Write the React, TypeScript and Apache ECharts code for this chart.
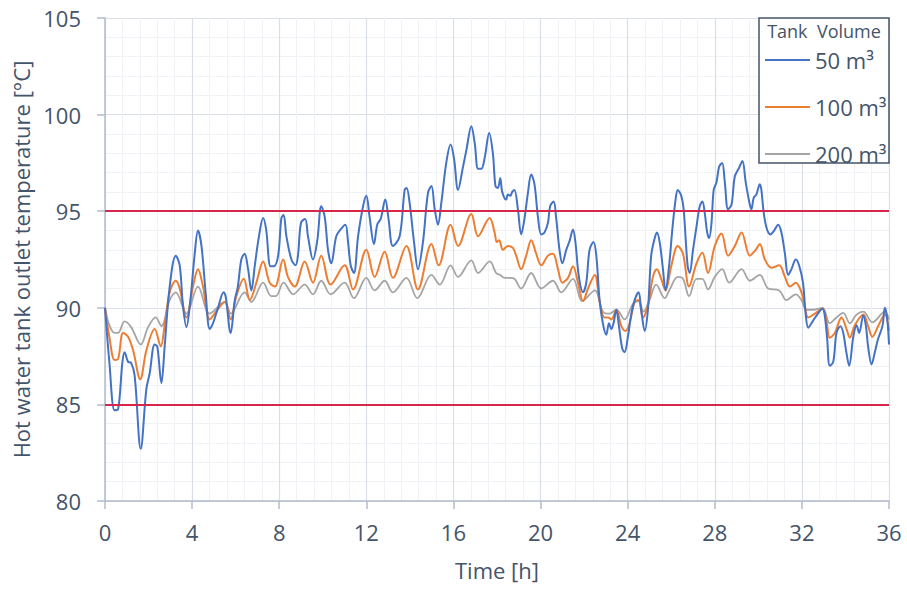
import React, { useEffect, useRef } from "react";
import * as echarts from "echarts";

// Legend / series names
const seriesNames = ["50 m³", "100 m³", "200 m³"];
const legendTitle = "Tank  Volume";

// Axis ranges (ticks)
const hourTicks = [0, 4, 8, 12, 16, 20, 24, 28, 32, 36];
const tempTicks = [80, 85, 90, 95, 100, 105];
const limitLines = [85, 95];

// [hour, temperature °C]
const tank50 = [
  [0, 90.0], [0.2, 87.2], [0.44, 84.7], [0.6, 84.75], [0.8, 87.2], [0.9, 87.7], [1.06, 87.2], [1.2, 87.15],
  [1.36, 86.5], [1.64, 82.7], [1.9, 85.8], [2.05, 86.6], [2.28, 88.1], [2.4, 88.0], [2.59, 86.1], [2.74, 88.0],
  [2.97, 91.1], [3.25, 92.7], [3.43, 92.2], [3.58, 90.1], [3.74, 89.0], [3.92, 90.4], [4.12, 92.8], [4.27, 94.0],
  [4.43, 93.2], [4.62, 90.8], [4.81, 88.9], [4.96, 89.2], [5.19, 90.0], [5.45, 90.8], [5.54, 90.6], [5.77, 88.7],
  [5.96, 90.4], [6.1, 91.1], [6.26, 92.5], [6.41, 92.8], [6.57, 92.0], [6.72, 90.9], [6.88, 92.2], [7.07, 93.7],
  [7.26, 94.65], [7.4, 94.05], [7.6, 92.15], [7.75, 92.15], [7.95, 92.7], [8.1, 94.65], [8.2, 94.8], [8.33, 93.7],
  [8.56, 92.5], [8.75, 92.2], [8.86, 92.7], [9.0, 94.4], [9.19, 94.6], [9.32, 93.7], [9.55, 92.5], [9.75, 93.5],
  [9.93, 95.26], [10.09, 94.7], [10.24, 93.0], [10.39, 92.3], [10.62, 93.7], [10.85, 94.1], [11.04, 94.3],
  [11.16, 93.4], [11.28, 92.2], [11.43, 91.8], [11.62, 93.7], [11.85, 95.26], [12.0, 95.8], [12.15, 94.7],
  [12.35, 93.3], [12.5, 94.3], [12.66, 94.6], [12.87, 95.6], [13.02, 94.6], [13.22, 93.2], [13.53, 93.7],
  [13.76, 96.1], [13.85, 96.2], [13.99, 95.4], [14.19, 93.4], [14.37, 92.0], [14.6, 93.4], [14.83, 95.95],
  [14.99, 96.3], [15.14, 95.1], [15.29, 94.3], [15.44, 95.4], [15.67, 97.5], [15.87, 98.45], [16.03, 97.7],
  [16.21, 96.1], [16.44, 97.3], [16.6, 98.2], [16.82, 99.4], [16.98, 98.5], [17.13, 97.2], [17.28, 97.2],
  [17.44, 97.8], [17.64, 99.05], [17.81, 98.0], [17.93, 96.3], [18.04, 96.2], [18.15, 96.7], [18.24, 96.0],
  [18.42, 95.6], [18.5, 95.86], [18.61, 95.8], [18.7, 96.0], [18.8, 96.1], [18.96, 95.1], [19.11, 93.8],
  [19.26, 94.6], [19.42, 95.95], [19.57, 96.9], [19.72, 96.4], [19.88, 94.7], [20.03, 93.8], [20.18, 93.9],
  [20.34, 94.4], [20.44, 95.26], [20.6, 95.5], [20.72, 94.6], [20.87, 93.0], [21.0, 92.3], [21.18, 93.0],
  [21.33, 93.45], [21.49, 94.05], [21.6, 93.4], [21.76, 91.6], [21.95, 90.8], [22.1, 91.3], [22.25, 93.0],
  [22.43, 93.4], [22.56, 92.7], [22.71, 90.4], [22.86, 89.2], [23.02, 88.6], [23.14, 89.2], [23.25, 88.9],
  [23.35, 89.2], [23.48, 89.9], [23.6, 89.05], [23.75, 87.9], [23.86, 87.7], [24.01, 88.5], [24.17, 89.7],
  [24.32, 90.4], [24.5, 90.8], [24.62, 89.9], [24.78, 88.8], [24.93, 89.9], [25.08, 92.7], [25.24, 93.6],
  [25.34, 93.9], [25.47, 93.4], [25.62, 92.0], [25.74, 90.9], [25.9, 92.15], [26.05, 94.05], [26.2, 95.6],
  [26.3, 96.1], [26.46, 95.8], [26.57, 95.1], [26.75, 92.2], [26.85, 91.8], [27.0, 93.0], [27.16, 94.2],
  [27.31, 95.26], [27.43, 95.5], [27.54, 94.9], [27.65, 93.9], [27.74, 93.6], [27.85, 94.4], [27.95, 96.1],
  [28.08, 96.5], [28.2, 97.3], [28.34, 97.5], [28.46, 96.5], [28.61, 95.1], [28.77, 95.35], [28.92, 96.8],
  [29.12, 97.25], [29.27, 97.6], [29.42, 96.5], [29.58, 95.5], [29.68, 95.1], [29.79, 95.7], [29.91, 95.86],
  [30.07, 96.4], [30.14, 96.1], [30.25, 94.9], [30.4, 94.05], [30.56, 93.8], [30.71, 93.97], [30.91, 94.3],
  [31.06, 93.9], [31.22, 92.8], [31.37, 91.7], [31.52, 92.0], [31.72, 92.5], [31.87, 92.2], [32.05, 91.3],
  [32.18, 89.6], [32.29, 88.97], [32.44, 89.2], [32.67, 89.6], [32.95, 89.95], [33.05, 89.6], [33.16, 88.4],
  [33.28, 87.0], [33.44, 87.2], [33.59, 88.7], [33.77, 89.05], [33.9, 88.7], [34.02, 87.85], [34.17, 87.0],
  [34.36, 88.5], [34.51, 89.1], [34.63, 88.7], [34.82, 89.6], [34.94, 89.05], [35.04, 88.0], [35.2, 87.07],
  [35.35, 87.7], [35.5, 88.4], [35.7, 89.05], [35.81, 90.0], [35.92, 89.4], [36, 88.1],
];

const tank100 = [
  [0, 90.0], [0.2, 88.5], [0.44, 87.3], [0.6, 87.35], [0.83, 88.7], [1.06, 88.5], [1.29, 87.8], [1.62, 86.3],
  [1.9, 87.8], [2.28, 88.9], [2.56, 88.0], [2.74, 89.1], [2.97, 90.8], [3.25, 91.4], [3.43, 91.0], [3.74, 89.5],
  [4.04, 91.1], [4.27, 92.0], [4.5, 91.1], [4.81, 89.4], [5.1, 89.8], [5.5, 90.3], [5.77, 89.4], [6.03, 90.6],
  [6.37, 91.5], [6.65, 90.4], [6.95, 91.3], [7.26, 92.4], [7.56, 91.3], [7.8, 91.1], [8.18, 92.5], [8.4, 91.6],
  [8.71, 91.1], [9.17, 92.4], [9.55, 91.3], [9.93, 92.7], [10.36, 91.2], [11.0, 92.2], [11.39, 90.95],
  [12.0, 93.0], [12.38, 91.6], [12.84, 92.9], [13.22, 91.55], [13.84, 93.2], [14.37, 90.95], [14.99, 93.3],
  [15.32, 92.2], [15.87, 94.3], [16.21, 93.2], [16.82, 94.85], [17.13, 93.7], [17.66, 94.65], [17.89, 93.9],
  [17.99, 93.4], [18.1, 93.5], [18.27, 93.0], [18.5, 93.2], [18.73, 93.1], [18.88, 92.7], [19.11, 92.0],
  [19.34, 92.7], [19.57, 93.5], [19.8, 92.8], [20.03, 92.2], [20.34, 92.7], [20.57, 92.8], [20.8, 92.0],
  [21.0, 91.3], [21.26, 91.55], [21.49, 92.15], [21.72, 91.3], [21.95, 90.35], [22.18, 91.0], [22.49, 91.7],
  [22.71, 90.35], [22.94, 89.5], [23.1, 89.5], [23.25, 89.4], [23.48, 89.9], [23.71, 89.05], [23.9, 88.8],
  [24.09, 89.2], [24.32, 90.3], [24.5, 90.4], [24.7, 89.5], [24.93, 90.1], [25.16, 91.6], [25.34, 92.0],
  [25.54, 91.5], [25.74, 90.9], [26.0, 92.15], [26.3, 93.2], [26.54, 92.8], [26.82, 91.1], [27.16, 92.3],
  [27.43, 92.85], [27.69, 91.8], [28.0, 93.2], [28.31, 93.85], [28.61, 92.7], [28.92, 93.2], [29.23, 93.9],
  [29.61, 92.7], [29.88, 93.0], [30.07, 93.3], [30.3, 92.5], [30.6, 92.07], [30.96, 92.2], [31.22, 91.6],
  [31.45, 91.1], [31.72, 91.3], [31.98, 90.8], [32.13, 90.1], [32.29, 89.5], [32.6, 89.7], [32.95, 89.95],
  [33.13, 89.3], [33.28, 88.45], [33.51, 88.7], [33.82, 89.5], [34.05, 88.9], [34.2, 88.45], [34.43, 89.1],
  [34.82, 89.65], [35.04, 89.05], [35.24, 88.5], [35.5, 89.05], [35.81, 89.65], [36, 88.8],
];

const tank200 = [
  [0, 90.0], [0.2, 89.1], [0.44, 88.7], [0.6, 88.7], [0.9, 89.3], [1.2, 89.0], [1.64, 88.1], [1.98, 89.0],
  [2.33, 89.5], [2.59, 89.05], [2.97, 90.4], [3.25, 90.8], [3.74, 89.7], [4.27, 91.1], [4.81, 89.7], [5.5, 90.3],
  [5.77, 89.7], [6.41, 90.8], [6.72, 90.3], [7.26, 91.3], [7.64, 90.6], [7.84, 90.6], [8.2, 91.3], [8.64, 90.7],
  [9.17, 91.2], [9.55, 90.7], [9.93, 91.4], [10.36, 90.7], [11.0, 91.3], [11.43, 90.5], [12.0, 91.55],
  [12.38, 90.9], [12.84, 91.4], [13.22, 90.8], [13.84, 91.55], [14.34, 90.5], [14.99, 91.7], [15.37, 91.2],
  [15.87, 92.2], [16.21, 91.6], [16.82, 92.45], [17.13, 91.8], [17.67, 92.4], [17.96, 91.8], [18.15, 91.7],
  [18.35, 91.55], [18.58, 91.55], [18.8, 91.5], [19.11, 91.0], [19.57, 91.8], [20.03, 91.0], [20.57, 91.4],
  [20.95, 90.8], [21.49, 91.5], [21.92, 90.35], [22.49, 90.9], [22.86, 89.8], [23.17, 89.7], [23.48, 89.9],
  [23.86, 89.4], [24.24, 90.2], [24.5, 90.35], [24.73, 89.8], [25.0, 90.4], [25.31, 91.2], [25.7, 90.5],
  [25.93, 90.95], [26.3, 91.6], [26.54, 91.5], [26.82, 90.6], [27.16, 91.5], [27.43, 91.5], [27.69, 90.95],
  [28.0, 91.6], [28.34, 92.0], [28.66, 91.3], [29.23, 92.0], [29.61, 91.4], [30.07, 91.7], [30.45, 91.0],
  [30.96, 90.9], [31.29, 90.4], [31.72, 90.7], [31.98, 90.4], [32.21, 89.9], [32.52, 89.9], [32.95, 90.0],
  [33.28, 89.2], [33.59, 89.5], [33.9, 89.74], [34.2, 89.2], [34.51, 89.65], [34.82, 89.8], [35.24, 89.25],
  [35.81, 89.8], [36, 89.4],
];

const seriesData = [tank50, tank100, tank200];
const seriesColors = ["#4472C4", "#ED7D31", "#A5A5A5"];

const TEXT = "#44546A";
const FONT = "'Open Sans', sans-serif";

export default function App() {
  const ref = useRef<HTMLDivElement>(null);

  useEffect(() => {
    const chart = echarts.init(ref.current!, null, { renderer: "svg" });
    const hMin = hourTicks[0];
    const hMax = hourTicks[hourTicks.length - 1];
    const tMin = tempTicks[0];
    const tMax = tempTicks[tempTicks.length - 1];

    chart.setOption({
      animation: false,
      backgroundColor: "#ffffff",
      textStyle: { fontFamily: FONT },
      grid: { left: 105, right: 18, top: 18, bottom: 88, containLabel: false },
      xAxis: {
        type: "value",
        min: hMin,
        max: hMax,
        interval: hourTicks[1] - hourTicks[0],
        name: "Time [h]",
        nameLocation: "middle",
        nameGap: 58,
        nameTextStyle: { color: TEXT, fontSize: 22, fontFamily: FONT },
        axisLine: { show: true, lineStyle: { color: "#B3BCCB", width: 1.5 } },
        axisTick: { show: true, length: 8, lineStyle: { color: "#B3BCCB", width: 1.5 } },
        axisLabel: { color: TEXT, fontSize: 22, margin: 20, fontFamily: FONT },
        splitLine: { show: true, lineStyle: { color: "#D9DEE7", width: 1.2 } },
        minorTick: { show: false, splitNumber: 5 },
        minorSplitLine: { show: true, lineStyle: { color: "#F0F2F6", width: 1 } },
      },
      yAxis: {
        type: "value",
        min: tMin,
        max: tMax,
        interval: tempTicks[1] - tempTicks[0],
        name: "Hot water tank outlet temperature [°C]",
        nameLocation: "middle",
        nameGap: 71,
        nameTextStyle: { color: TEXT, fontSize: 22, fontFamily: FONT },
        axisLine: { show: true, lineStyle: { color: "#B3BCCB", width: 1.5 } },
        axisTick: { show: true, length: 8, lineStyle: { color: "#B3BCCB", width: 1.5 } },
        axisLabel: { color: TEXT, fontSize: 22, margin: 24, fontFamily: FONT },
        splitLine: { show: true, lineStyle: { color: "#D9DEE7", width: 1.2 } },
        minorTick: { show: false, splitNumber: 5 },
        minorSplitLine: { show: true, lineStyle: { color: "#F0F2F6", width: 1 } },
      },
      legend: {
        orient: "vertical",
        left: 764,
        top: 49,
        padding: 0,
        itemWidth: 45,
        itemHeight: 20,
        itemGap: 25,
        z: 10,
        itemStyle: { opacity: 0 },
        lineStyle: { width: 2 },
        textStyle: { color: TEXT, fontSize: 22, fontFamily: FONT },
        data: seriesNames,
      },
      graphic: [
        {
          type: "rect",
          z: 8,
          shape: { x: 759, y: 18, width: 130, height: 145 },
          style: { fill: "#ffffff", stroke: "#44546A", lineWidth: 1.5 },
        },
        {
          type: "text",
          z: 11,
          x: 824,
          y: 31,
          style: {
            text: legendTitle,
            fill: TEXT,
            font: `18px ${FONT}`,
            textAlign: "center",
            textVerticalAlign: "middle",
          },
        },
      ],
      series: seriesData.map((d, i) => ({
        name: seriesNames[i],
        type: "line",
        data: d,
        smooth: 0.35,
        symbol: "none",
        showSymbol: false,
        lineStyle: { color: seriesColors[i], width: i === 2 ? 1.8 : 2 },
        itemStyle: { color: seriesColors[i] },
        z: 3 - i,
        markLine:
          i === 0
            ? {
                silent: true,
                symbol: ["none", "none"],
                label: { show: false },
                lineStyle: { color: "#D6264B", width: 2, type: "solid" },
                data: limitLines.map((v) => ({ yAxis: v })),
              }
            : undefined,
      })),
    });

    return () => chart.dispose();
  }, []);

  return (
    <div
      ref={ref}
      style={{ position: "fixed", left: 0, top: 0, width: 907, height: 589 }}
    />
  );
}
